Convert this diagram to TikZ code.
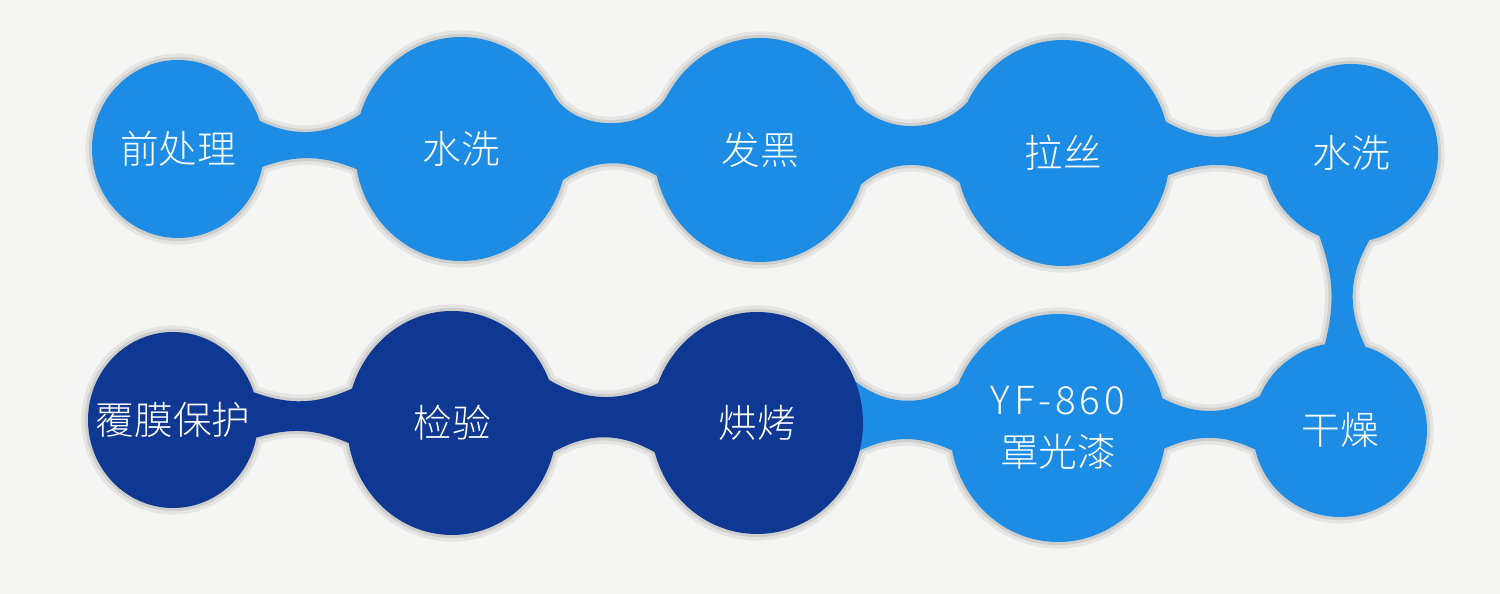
\documentclass[tikz,border=0pt]{standalone}
\usepackage{fontspec}
\newfontfamily\cjk{Noto Sans CJK SC Light}
\newfontfamily\cjkwide[LetterSpace=10]{Noto Sans CJK SC Light}
\usetikzlibrary{calc,shapes.geometric}
\pgfdeclarelayer{glow}
\pgfdeclarelayer{halo}
\pgfdeclarelayer{necks}
\pgfsetlayers{glow,halo,necks,main}
\definecolor{paper}{RGB}{245,245,243}
\definecolor{lightblue}{RGB}{28,140,228}
\definecolor{darkblue}{RGB}{14,56,146}
\definecolor{halogray}{RGB}{206,206,204}
\definecolor{glowgray}{RGB}{228,228,226}
\tikzset{
  stage/.style={ellipse,inner sep=0pt,outer sep=0pt},
  stagetext/.style={text=white,align=center,inner sep=0pt,
    font=\cjk\fontsize{22}{29.5}\selectfont},
  halo/.style={draw=halogray,line width=3.5pt,line join=round},
  glow/.style={draw=glowgray,line width=7.5pt,line join=round},
}
\begin{document}
\begin{tikzpicture}[x=0.02cm,y=0.02cm]
  \begin{pgfonlayer}{glow}
    \fill[paper] (0,0) rectangle (1500,594);
  \end{pgfonlayer}
  \useasboundingbox (0,0) rectangle (1500,594);
  % stages: name/x/y/x radius/y radius/colour/text
  \foreach \n/\x/\y/\rx/\ry/\c/\t in {
      pre/178/445/86/89/lightblue/前处理,
      wa/461/445/106/112/lightblue/水洗,
      fh/760/444/106/112/lightblue/发黑,
      ls/1063/441/107/113/lightblue/拉丝,
      wb/1351/441/87/89/lightblue/水洗,
      gz/1340/164/87/87/lightblue/干燥,
      yf/1058/166/108/114/lightblue/{{\cjkwide YF-860}\\罩光漆},
      hk/757/171/106/111/darkblue/烘烤,
      jy/452/171/105/112/darkblue/检验,
      fm/173/174/85/88/darkblue/覆膜保护}{
    \node[stage,fill=\c,minimum width=2*\rx*0.02cm,minimum height=2*\ry*0.02cm,
      label={[stagetext]center:\t}] (\n) at (\x,\y) {};
    \begin{pgfonlayer}{glow}
      \draw[glow] (\n.center) ellipse [x radius=\rx, y radius=\ry];
    \end{pgfonlayer}
    \begin{pgfonlayer}{halo}
      \draw[halo] (\n.center) ellipse [x radius=\rx, y radius=\ry];
    \end{pgfonlayer}
  }
  % necks: left/right/top angles/bottom angles/bends/colour
  \foreach \a/\b/\ta/\tb/\ba/\bb/\bt/\bu/\c in {
      pre/wa/19/161/-12/191/29/21/lightblue,
      wa/fh/32/148/-17/194/64/32/lightblue,
      fh/ls/26/152/-19/196/46/40/lightblue,
      ls/wb/17/159/-12/195/30/21/lightblue,
      fm/jy/19/161/-12/191/22/20/darkblue,
      jy/hk/24/158/-16/196/29/30/darkblue,
      hk/yf/23/156/-15/192/37/25/lightblue,
      yf/gz/16/157/-11/193/29/25/lightblue}{
    \path[save path=\neckpath] (\a.\ta) to[bend right=\bt] (\b.\tb)
      -- (\b.\bb) to[bend right=\bu] (\a.\ba) -- cycle;
    \begin{pgfonlayer}{glow}\path[glow,use path=\neckpath];\end{pgfonlayer}
    \begin{pgfonlayer}{halo}\path[halo,use path=\neckpath];\end{pgfonlayer}
    \begin{pgfonlayer}{necks}\path[fill=\c,use path=\neckpath];\end{pgfonlayer}
  }
  \path[save path=\neckpath] (wb.-78) to[bend right=28] (gz.73)
    -- (gz.100) to[bend right=17] (wb.-111) -- cycle;
  \begin{pgfonlayer}{glow}\path[glow,use path=\neckpath];\end{pgfonlayer}
  \begin{pgfonlayer}{halo}\path[halo,use path=\neckpath];\end{pgfonlayer}
  \begin{pgfonlayer}{necks}\path[fill=lightblue,use path=\neckpath];\end{pgfonlayer}
\end{tikzpicture}
\end{document}
